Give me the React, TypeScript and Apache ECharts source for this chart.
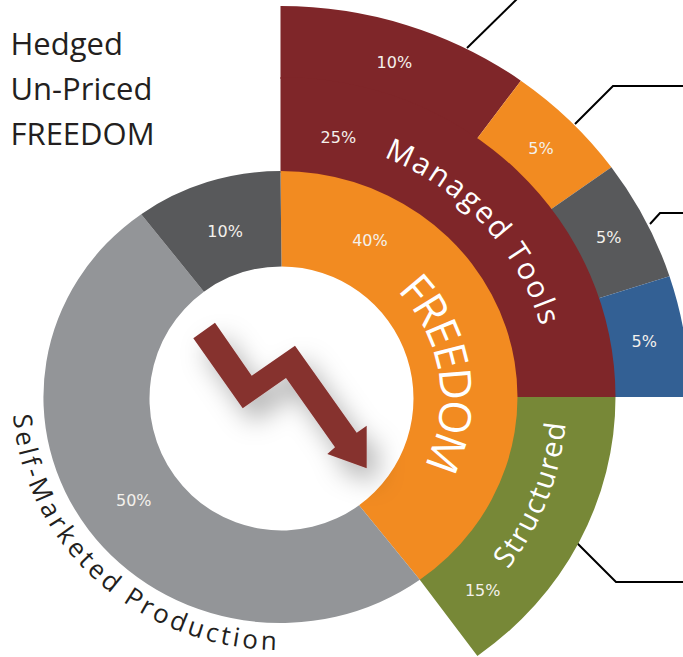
import React, { useEffect, useRef } from "react";
import * as echarts from "echarts";

const titleLines = ["Hedged", "Un-Priced", "FREEDOM"];

const innerNames = ["FREEDOM", "Self-Marketed Production", "Other Production"];
const innerShares = [40, 50, 10];
const middleNames = ["Managed Tools", "Structured"];
const middleShares = [25, 15];
const outerNames = ["Tools A", "Tools B", "Tools C", "Tools D"];
const outerShares = [10, 5, 5, 5];

const innerColors = ["#F28B21", "#939598", "#58595B"];
const middleColors = ["#7F2629", "#778837"];
const outerColors = ["#7F2629", "#F28B21", "#58595B", "#336094"];

const innerLabelAngles = [29, 234, 342];
const innerLabelFracs = [0.5, 0.47, 0.45];
const middleLabelAngles = [12, 135];
const middleLabelFracs = [0.42, 0.5];
const outerLabelAngles = [18, 45, 63, 81];
const outerLabelFracs = [0.45, 0.45, 0.45, 0.45];

const W = 683;
const H = 657;
const CX = 280.5;
const CY = 397;
const FONT = '"Open Sans", "Noto Sans", sans-serif';
const LABEL_FONT = '"DejaVu Sans", sans-serif';

type Ring = { rx0: number; ry0: number; cx0: number; cy0: number; rx1: number; ry1: number; tuck: number };
const innerRing: Ring = { rx0: 132, ry0: 132, cx0: 281.5, cy0: 398.5, rx1: 237, ry1: 226, tuck: 0 };
const middleRing: Ring = { rx0: 237, ry0: 226, cx0: CX, cy0: CY, rx1: 335, ry1: 320, tuck: 2 };
const outerRing: Ring = { rx0: 335, ry0: 320, cx0: CX, cy0: CY, rx1: 409, ry1: 391, tuck: 2 };

const pt = (cx: number, cy: number, rx: number, ry: number, deg: number) => {
  const a = (deg * Math.PI) / 180;
  return [cx + rx * Math.sin(a), cy - ry * Math.cos(a)];
};

function ringSeries(
  ring: Ring,
  names: string[],
  shares: number[],
  colors: string[],
  angles: number[],
  fracs: number[]
) {
  let acc = 0;
  const data = shares.map((s, i) => {
    const item = { name: names[i], value: [acc, acc + s, s, angles[i]] };
    acc += s;
    return item;
  });
  return {
    type: "custom",
    coordinateSystem: "none",
    silent: true,
    data,
    renderItem: (params: any, api: any) => {
      const a0 = (api.value(0) / 100) * 360;
      const a1 = (api.value(1) / 100) * 360;
      const share = api.value(2);
      const la = api.value(3);
      const rx0 = ring.rx0 - ring.tuck;
      const ry0 = ring.ry0 - ring.tuck;
      const p0 = pt(CX, CY, ring.rx1, ring.ry1, a0);
      const p1 = pt(CX, CY, ring.rx1, ring.ry1, a1);
      const p2 = pt(ring.cx0, ring.cy0, rx0, ry0, a1);
      const p3 = pt(ring.cx0, ring.cy0, rx0, ry0, a0);
      const large = a1 - a0 > 180 ? 1 : 0;
      const d = `M${p0[0]} ${p0[1]}A${ring.rx1} ${ring.ry1} 0 ${large} 1 ${p1[0]} ${p1[1]}L${p2[0]} ${p2[1]}A${rx0} ${ry0} 0 ${large} 0 ${p3[0]} ${p3[1]}Z`;
      const f = fracs[params.dataIndex];
      const lp = pt(CX, CY, ring.rx0 + (ring.rx1 - ring.rx0) * f, ring.ry0 + (ring.ry1 - ring.ry0) * f, la);
      return {
        type: "group",
        children: [
          { type: "path", shape: { pathData: d }, style: { fill: colors[params.dataIndex] } },
          {
            type: "text",
            z2: 10,
            style: {
              text: `${share}%`,
              x: lp[0],
              y: lp[1],
              fill: "#F4F1EC",
              font: `16px ${LABEL_FONT}`,
              align: "center",
              verticalAlign: "middle",
            },
          },
        ],
      };
    },
  };
}

function curvedText(
  text: string,
  opt: { rx: number; ry: number; start: number; size: number; spacing: number; fill: string; dir: 1 | -1 }
) {
  const ctx = document.createElement("canvas").getContext("2d")!;
  const font = `${opt.size}px ${FONT}`;
  ctx.font = font;
  const out: any[] = [];
  let deg = opt.start;
  const step = (len: number) => {
    const a = (deg * Math.PI) / 180;
    const speed = Math.hypot(opt.rx * Math.cos(a), opt.ry * Math.sin(a));
    deg += opt.dir * (len / speed) * (180 / Math.PI);
  };
  for (const ch of text) {
    const w = ctx.measureText(ch).width;
    step(w / 2);
    const a = (deg * Math.PI) / 180;
    const x = CX + opt.rx * Math.sin(a);
    const y = CY - opt.ry * Math.cos(a);
    const tangent = Math.atan2(opt.ry * Math.sin(a), opt.rx * Math.cos(a));
    const rotation = opt.dir === 1 ? -tangent : -(tangent + Math.PI);
    out.push({
      type: "text",
      x,
      y,
      rotation,
      z: 20,
      style: { text: ch, font, fill: opt.fill, textAlign: "center", textVerticalAlign: "middle" },
    });
    step(w / 2 + opt.spacing);
  }
  return out;
}

const leaders = [
  [[467, 48], [518, -2]],
  [[575, 124], [613, 86], [690, 86]],
  [[650, 224], [660, 213], [690, 213]],
  [[577, 543], [616, 582], [690, 582]],
];

const arrowShape = [
  [193.3, 338.3], [215, 322.7], [251.7, 375.7], [295, 345.7], [356.7, 432.7], [366.7, 425.7],
  [366.7, 468.3], [327.3, 454], [335, 447.3], [286, 378], [242.7, 408.3],
];

export default function App() {
  const ref = useRef<HTMLDivElement>(null);
  useEffect(() => {
    const chart = echarts.init(ref.current!, undefined, { renderer: "svg" });
    const graphic: any[] = [
      ...titleLines.map((t, i) => ({
        type: "text",
        x: 10.5,
        y: 43 + i * 45,
        z: 20,
        style: { text: t, font: `31px ${FONT}`, fill: "#231F20", textAlign: "left", textVerticalAlign: "middle" },
      })),
      ...leaders.map((points) => ({
        type: "polyline",
        z: 1,
        shape: { points },
        style: { stroke: "#000", lineWidth: 2, fill: "none" },
      })),
      {
        type: "polygon",
        z: 15,
        shape: { points: arrowShape },
        style: {
          fill: "#86322F",
          shadowBlur: 26,
          shadowOffsetX: 10,
          shadowOffsetY: 14,
          shadowColor: "rgba(0,0,0,0.3)",
        },
      },
      ...curvedText("Managed Tools", { rx: 282, ry: 271, start: 22.5, size: 30, spacing: 3, fill: "#fff", dir: 1 }),
      ...curvedText("FREEDOM", { rx: 177, ry: 172, start: 47, size: 44, spacing: 0.5, fill: "#fff", dir: 1 }),
      ...curvedText("Structured", { rx: 275, ry: 272, start: 127.5, size: 29, spacing: 1, fill: "#fff", dir: -1 }),
      ...curvedText("Self-Marketed Production", { rx: 258, ry: 243, start: 266, size: 26, spacing: 2.75, fill: "#231F20", dir: -1 }),
    ];
    chart.setOption({
      animation: false,
      series: [
        ringSeries(outerRing, outerNames, outerShares, outerColors, outerLabelAngles, outerLabelFracs),
        ringSeries(middleRing, middleNames, middleShares, middleColors, middleLabelAngles, middleLabelFracs),
        ringSeries(innerRing, innerNames, innerShares, innerColors, innerLabelAngles, innerLabelFracs),
      ],
      graphic,
    });
    return () => chart.dispose();
  }, []);
  return <div ref={ref} style={{ position: "absolute", left: 0, top: 0, width: W, height: H }} />;
}
